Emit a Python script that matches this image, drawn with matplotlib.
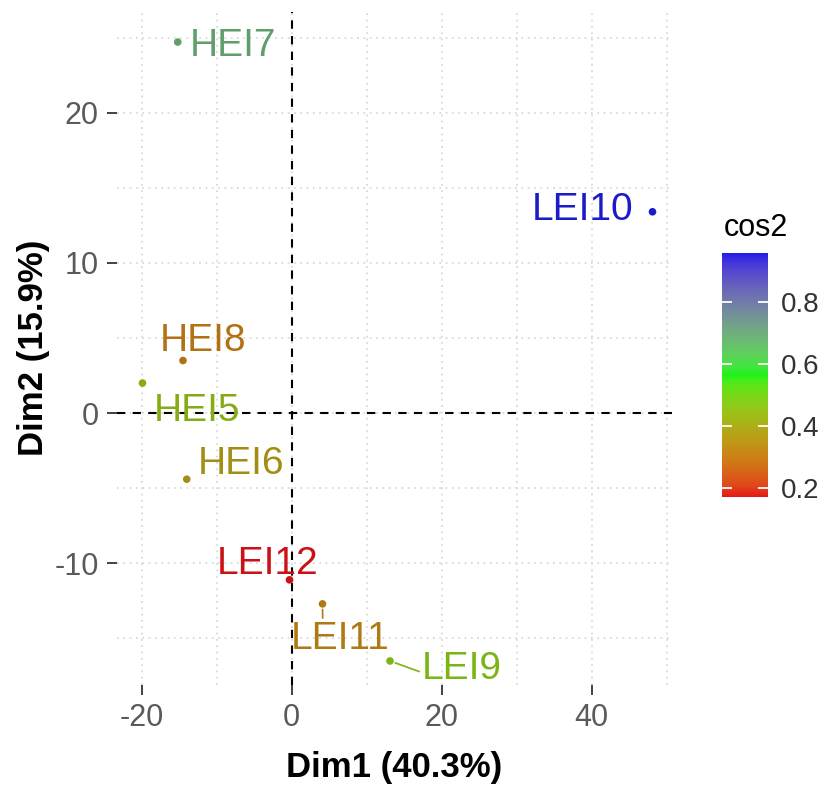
import numpy as np
import matplotlib
matplotlib.use('Agg')
import matplotlib.pyplot as plt
from matplotlib.colors import ListedColormap, Normalize
from matplotlib.cm import ScalarMappable

plt.rcParams['font.family'] = ['Liberation Sans', 'DejaVu Sans']
plt.rcParams['axes.unicode_minus'] = False

# Individuals on the first two PCA dimensions
names = ['HEI5', 'HEI6', 'HEI7', 'HEI8', 'LEI9', 'LEI10', 'LEI11', 'LEI12']
dim1 = [-19.9, -14.0, -15.2, -14.5, 13.1, 48.1, 4.1, -0.3]
dim2 = [2.0, -4.4, 24.7, 3.5, -16.5, 13.4, -12.7, -11.1]
cos2 = [0.45, 0.37, 0.69, 0.30, 0.47, 0.96, 0.32, 0.17]

x_ticks = [-20, 0, 20, 40]
y_ticks = [-10, 0, 10, 20]
cbar_ticks = [0.2, 0.4, 0.6, 0.8]

# where the repelled labels ended up (pixels from the point, baseline anchored)
label_dx = [55, 54, 55, 20, 72, -70, 18, -22]
label_dy = [-38, 5, -14, 10, -18, -8, -45, 6]
# segment start on the label box (None = no segment)
seg_rel = [None, None, None, (0.26, 0.0), (0.0, 0.4), None, (0.32, 1.0), None]


# ggplot interpolates gradientn colours in Lab space
def to_lab(rgb):
    rgb = np.asarray(rgb, float)
    lin = np.where(rgb > 0.04045, ((rgb + 0.055) / 1.055) ** 2.4, rgb / 12.92)
    m = np.array([[0.4124, 0.3576, 0.1805],
                  [0.2126, 0.7152, 0.0722],
                  [0.0193, 0.1192, 0.9505]])
    xyz = lin @ m.T / np.array([0.95047, 1.0, 1.08883])
    f = np.where(xyz > 0.008856, np.cbrt(xyz), 7.787 * xyz + 16 / 116)
    return np.stack([116 * f[..., 1] - 16,
                     500 * (f[..., 0] - f[..., 1]),
                     200 * (f[..., 1] - f[..., 2])], -1)


def from_lab(lab):
    L, a, b = lab[..., 0], lab[..., 1], lab[..., 2]
    fy = (L + 16) / 116
    f = np.stack([fy + a / 500, fy, fy - b / 200], -1)
    xyz = np.where(f > 0.2069, f ** 3, (f - 16 / 116) / 7.787) * np.array([0.95047, 1.0, 1.08883])
    m = np.array([[3.2406, -1.5372, -0.4986],
                  [-0.9689, 1.8758, 0.0415],
                  [0.0557, -0.2040, 1.0570]])
    lin = np.clip(xyz @ m.T, 0, 1)
    return np.where(lin > 0.0031308, 1.055 * lin ** (1 / 2.4) - 0.055, 12.92 * lin)


stops = to_lab([[0.9, 0.08, 0.1], [0.1, 0.95, 0.1], [0.12, 0.12, 0.9]])
t = np.linspace(0, 1, 256)
seg = np.minimum((t * 2).astype(int), 1)
frac = (t * 2 - seg)[:, None]
lab = stops[seg] * (1 - frac) + stops[seg + 1] * frac
cmap = ListedColormap(from_lab(lab))
norm = Normalize(vmin=min(cos2), vmax=max(cos2))

fig = plt.figure(figsize=(8.28, 7.85), dpi=100)
ax = fig.add_axes([117 / 828, 100 / 785, 555 / 828, 673 / 785])

ax.set_xlim(-23.3, 50.7)
ax.set_ylim(-18.1, 26.7)
ax.set_xticks(x_ticks)
ax.set_yticks(y_ticks)
ax.set_xticks([-10, 10, 30, 50], minor=True)
ax.set_yticks([-15, -5, 5, 15, 25], minor=True)
ax.grid(which='both', linestyle=(0, (1, 2.5)), color='#dadada', linewidth=1.3)
ax.set_axisbelow(True)
for s in ax.spines.values():
    s.set_visible(False)
ax.tick_params(which='major', length=7, width=1.3, color='#333333',
               labelsize=22, labelcolor='#5a5a5a', pad=6)
ax.tick_params(which='minor', length=0)

ax.axhline(0, color='black', linestyle=(0, (4, 3.5)), linewidth=1.5)
ax.axvline(0, color='black', linestyle=(0, (4, 3.5)), linewidth=1.5)

colors = cmap(norm(np.array(cos2)))
text_colors = colors.copy()
text_colors[:, :3] *= 0.88
ax.scatter(dim1, dim2, s=30, c=text_colors, zorder=3, linewidths=0)

for i, name in enumerate(names):
    arrow = None
    if seg_rel[i] is not None:
        arrow = dict(arrowstyle='-', color=text_colors[i], lw=1.2, shrinkA=0, shrinkB=4,
                     relpos=seg_rel[i])
    ax.annotate(name, (dim1[i], dim2[i]), xytext=(label_dx[i], label_dy[i]),
                textcoords='offset pixels', ha='center', va='baseline',
                fontsize=28, color=text_colors[i], arrowprops=arrow, zorder=4)

fig.text(394 / 828, 1 - 767 / 785, 'Dim1 (40.3%)', fontsize=25, fontweight='bold',
         ha='center', va='center')
fig.text(34 / 828, 1 - 348 / 785, 'Dim2 (15.9%)', fontsize=25, fontweight='bold',
         ha='center', va='center', rotation=90)

# colour bar
cax = fig.add_axes([722 / 828, 288 / 785, 46 / 828, 244 / 785])
cb = fig.colorbar(ScalarMappable(norm=norm, cmap=cmap), cax=cax, ticks=cbar_ticks)
cb.outline.set_visible(False)
cax.tick_params(direction='in', length=7, width=1.3, color='white', left=True, right=True,
                labelsize=20, labelcolor='#333333', pad=9)
fig.text(724 / 828, 1 - 228 / 785, 'cos2', fontsize=22, ha='left', va='center')

fig.savefig('out.png', dpi=100)
